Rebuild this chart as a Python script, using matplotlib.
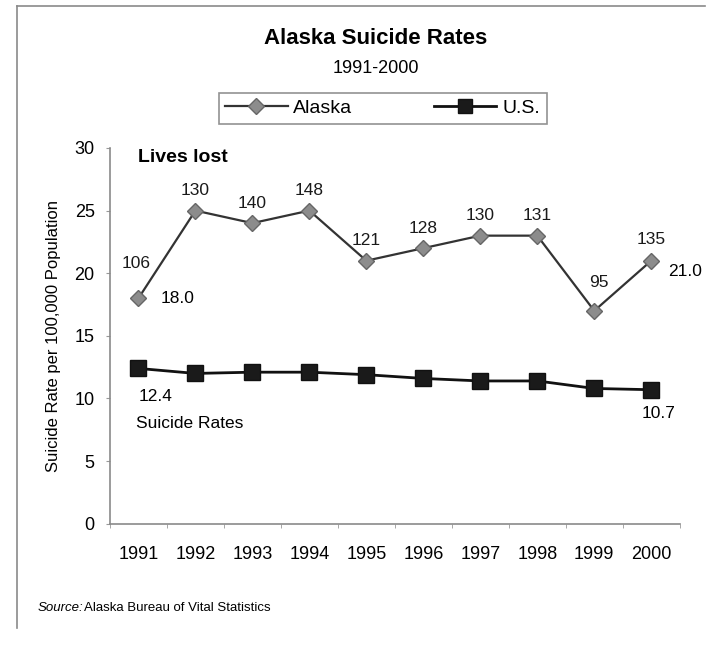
import matplotlib

matplotlib.use("Agg")
from matplotlib import pyplot as plt
from matplotlib.lines import Line2D

plt.rcParams['font.family'] = ['Liberation Sans', 'DejaVu Sans']

years = ['1991', '1992', '1993', '1994', '1995', '1996', '1997', '1998', '1999', '2000']
alaska_rate = [18.0, 25.0, 24.0, 25.0, 21.0, 22.0, 23.0, 23.0, 17.0, 21.0]
us_rate = [12.4, 12.0, 12.1, 12.1, 11.9, 11.6, 11.4, 11.4, 10.8, 10.7]
lives_lost = [106, 130, 140, 148, 121, 128, 130, 131, 95, 135]

# per-point offsets (points) for the lives-lost labels
lives_offsets = [(-2, 20), (0, 9), (0, 9), (0, 9), (0, 9), (0, 9), (0, 9), (0, 9), (3, 15), (0, 10)]

fig = plt.figure(figsize=(7.14, 6.49), dpi=100)
fig.patch.set_facecolor('white')
ax = fig.add_axes([0.154, 0.193, 0.798, 0.579])

x = list(range(len(years)))
ax.plot(x, alaska_rate, color='#333333', lw=1.6, marker='D', markersize=8,
        markerfacecolor='#8c8c8c', markeredgecolor='#666666', zorder=3)
ax.plot(x, us_rate, color='#111111', lw=2.0, marker='s', markersize=11,
        markerfacecolor='#1a1a1a', markeredgecolor='#111111', zorder=3)

for i, n in enumerate(lives_lost):
    ax.annotate(str(n), (x[i], alaska_rate[i]), xytext=lives_offsets[i],
                textcoords='offset points', ha='center', va='bottom',
                fontsize=12.5, color='#1a1a1a')

ax.annotate(f'{alaska_rate[0]:.1f}', (x[0], alaska_rate[0]), xytext=(16, 0),
            textcoords='offset points', ha='left', va='center', fontsize=12.5)
ax.annotate(f'{alaska_rate[-1]:.1f}', (x[-1], alaska_rate[-1]), xytext=(12, -8),
            textcoords='offset points', ha='left', va='center', fontsize=12.5)
ax.annotate(f'{us_rate[0]:.1f}', (x[0], us_rate[0]), xytext=(0, -20),
            textcoords='offset points', ha='left', va='center', fontsize=12.5)
ax.annotate(f'{us_rate[-1]:.1f}', (x[-1], us_rate[-1]), xytext=(-7, -17),
            textcoords='offset points', ha='left', va='center', fontsize=12.5)

ax.text(0.05, 0.975, 'Lives lost', transform=ax.transAxes, fontsize=14,
        fontweight='bold', va='center', ha='left')
ax.text(-0.05, 8.0, 'Suicide Rates', fontsize=12.5, va='center', ha='left')

ax.set_xlim(-0.5, len(years) - 0.5)
ax.set_ylim(0, 30)
ax.set_yticks(range(0, 31, 5))
ax.set_xticks(x)
ax.set_xticklabels(years)
ax.set_xticks([i - 0.5 for i in range(len(years) + 1)], minor=True)
ax.tick_params(axis='x', which='major', length=0, pad=16, labelsize=13)
ax.tick_params(axis='x', which='minor', length=3, color='#999999')
ax.tick_params(axis='y', length=3, color='#999999', labelsize=13, pad=8)

for side in ('top', 'right'):
    ax.spines[side].set_visible(False)
for side in ('left', 'bottom'):
    ax.spines[side].set_color('#8a8a8a')
    ax.spines[side].set_linewidth(1.2)

ax.set_ylabel('Suicide Rate per 100,000 Population', fontsize=12, labelpad=10)

fig.text(0.526, 0.941, 'Alaska Suicide Rates', ha='center', va='center',
         fontsize=16, fontweight='bold')
fig.text(0.526, 0.895, '1991-2000', ha='center', va='center', fontsize=13)

handles = [
    Line2D([], [], color='#333333', lw=1.6, marker='D', markersize=8,
           markerfacecolor='#8c8c8c', markeredgecolor='#666666'),
    Line2D([], [], color='#111111', lw=2.0, marker='s', markersize=10,
           markerfacecolor='#1a1a1a', markeredgecolor='#111111'),
]
leg = fig.legend(handles, ['Alaska', 'U.S.'], loc='center', ncol=2,
                 bbox_to_anchor=(0.536, 0.833), fontsize=14, frameon=True,
                 fancybox=False, edgecolor='#777777', handlelength=3.2,
                 columnspacing=4.2, handletextpad=0.3, borderpad=0.35,
                 borderaxespad=0.0)
leg.get_frame().set_linewidth(1.2)

# outer frame: top and left edges only
fig.add_artist(Line2D([17 / 714, 705 / 714], [1 - 6 / 649, 1 - 6 / 649],
                      transform=fig.transFigure, color='#8a8a8a', lw=1.2))
fig.add_artist(Line2D([17 / 714, 17 / 714], [1 - 6 / 649, 1 - 628 / 649],
                      transform=fig.transFigure, color='#8a8a8a', lw=1.2))

fig.text(0.053, 0.063, 'Source:', fontsize=9.5, style='italic', va='center')
fig.text(0.118, 0.063, 'Alaska Bureau of Vital Statistics', fontsize=9.5, va='center')

fig.savefig('out.png', dpi=100)
